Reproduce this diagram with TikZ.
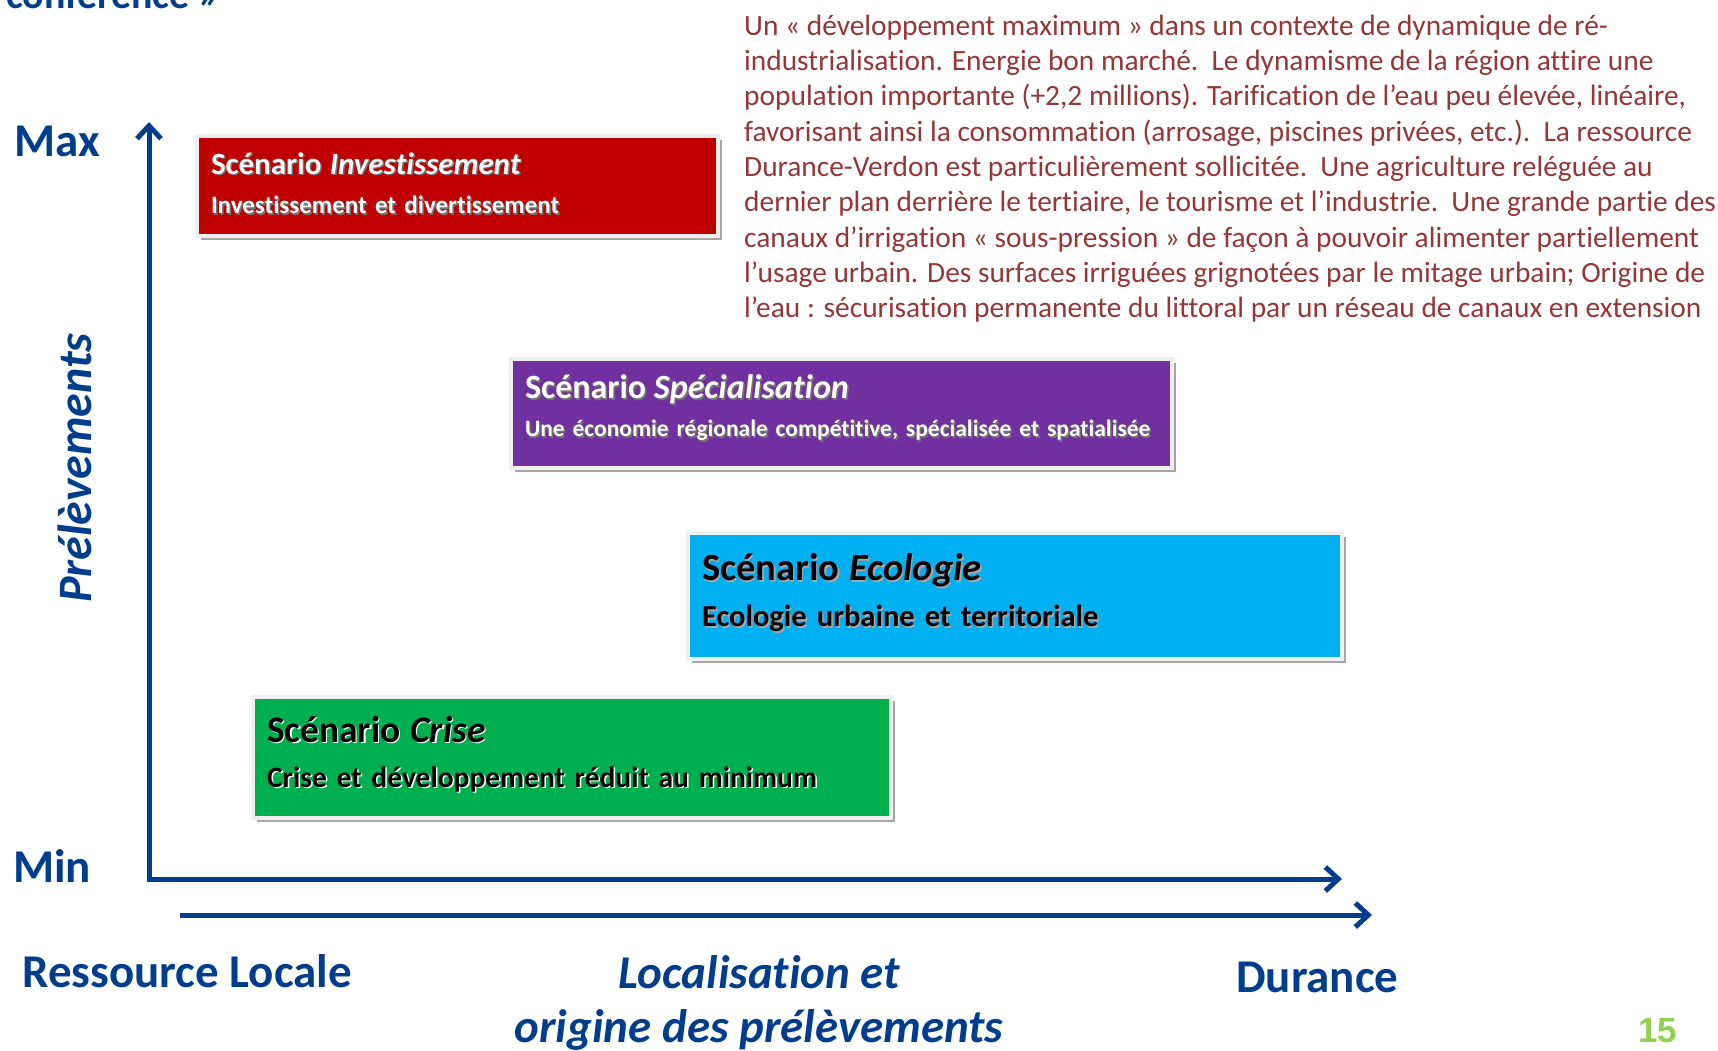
\documentclass[tikz,border=0pt]{standalone}
\usepackage{fontspec}
\setmainfont{Carlito}[Ligatures=NoCommon]
\newfontfamily\numfont{Liberation Sans}
\usetikzlibrary{arrows.meta,shadows}

\definecolor{axisblue}{HTML}{003D8C}
\definecolor{investred}{HTML}{C00000}
\definecolor{specpurple}{HTML}{7030A0}
\definecolor{ecoblue}{HTML}{00B0F0}
\definecolor{crisegreen}{HTML}{00B050}
\definecolor{notered}{HTML}{953735}
\definecolor{pagegreen}{HTML}{92D050}

%% font size shortcut, text with a small offset shadow, and a depth strut
\newcommand{\fsz}[2]{\fontsize{#1}{#2}\selectfont}
\newcommand{\shadowed}[2]{\makebox[0pt][l]{\kern1.5pt\raisebox{-1.5pt}{\color{#1}#2}}\mbox{#2}}
\newcommand{\lift}[1]{\rule[-#1]{0pt}{0pt}}

\begin{document}
\begin{tikzpicture}
[x=1pt,y=-1pt,>={Straight Barb[length=13pt,width=24pt]},%
  axisLine/.style={line width=5pt,color=axisblue},%
  axisLabel/.style={anchor=base west,inner sep=0pt,text=axisblue,font=\bfseries\fsz{47}{54}},%
  scenBox/.style={anchor=north west,draw=black!6,line width=4pt,inner xsep=14pt,inner ysep=0pt,align=left,
    drop shadow={shadow xshift=4pt,shadow yshift=-4pt,fill=black,opacity=.35}},%
  noteLine/.style={anchor=base west,inner sep=0pt,text=notered,font=\fsz{29.4}{35.3}}]
\useasboundingbox (0,0) rectangle (1718,1051);
\clip (0,0) rectangle (1718,1051);
\fill[white] (0,0) rectangle (1718,1051);

%% the two axes
\coordinate (origin) at (149,879);
\coordinate (yTop) at (149,122);
\coordinate (xEnd) at (1342,879);
\coordinate (srcStart) at (180,915);
\coordinate (srcEnd) at (1372,915);
\draw[axisLine,<->] (yTop) -- (origin) -- (xEnd);
\draw[axisLine,->] (srcStart) -- (srcEnd);

%% axis labels
\node (titleTail) at (6,9) [axisLabel,font=\bfseries\fsz{40}{40}] {conférence »};
\node (maxLabel) at (14,157) [axisLabel] {Max};
\node (minLabel) at (13,882) [axisLabel] {Min};
\node (yLabel) at (91,468) [axisLabel,anchor=base,rotate=90,font=\bfseries\itshape\fsz{48}{54}] {Prélèvements};
\node (localLabel) at (22,987) [axisLabel] {Ressource Locale};
\node (duranceLabel) at (1236,992) [axisLabel] {Durance};
\node (xLabelTop) at (759,988) [axisLabel,anchor=base,font=\bfseries\itshape\fsz{47}{54}] {Localisation et};
\node (xLabelBottom) at (759,1042) [axisLabel,anchor=base,font=\bfseries\itshape\fsz{47}{54}] {origine des prélèvements};

%% the four scenarios
\node (invest) at (195,134) [scenBox,fill=investred,text=white,text width=493pt,minimum height=100pt,font=\bfseries\fsz{25}{39.5}]
  {{\fsz{31}{31}\shadowed{black!55}{Scénario \textit{Investissement}}}\\
   \shadowed{black!55}{Investissement et divertissement}\lift{6pt}};
\node (special) at (509,357) [scenBox,fill=specpurple,text=white,text width=633pt,minimum height=109pt,font=\bfseries\fsz{23.5}{38}]
  {{\fsz{34}{34}\shadowed{black!55}{Scénario \textit{Spécialisation}}}\\
   \shadowed{black!55}{Une économie régionale compétitive, spécialisée et spatialisée}\lift{15pt}};
\node (ecology) at (686,531) [scenBox,fill=ecoblue,text=black,text width=626pt,minimum height=126pt,font=\bfseries\fsz{30.5}{46}]
  {{\fsz{38.5}{38.5}\shadowed{black!35}{Scénario \textit{Ecologie}}}\\
   \shadowed{black!35}{Ecologie urbaine et territoriale}\lift{12pt}};
\node (crisis) at (251,695) [scenBox,fill=crisegreen,text=black,text width=610pt,minimum height=121pt,font=\bfseries\fsz{29.5}{45}]
  {{\fsz{37.5}{37.5}\shadowed{white}{Scénario \textit{Crise}}}\\
   \shadowed{white}{Crise et développement réduit au minimum}\lift{12pt}};

%% scenario notes
\foreach [count=\i] \txt in {
  {Un « développement maximum » dans un contexte de dynamique de ré-},
  {industrialisation. Energie bon marché.~~Le dynamisme de la région attire une},
  {population importante (+2,2 millions). Tarification de l’eau peu élevée, linéaire,},
  {favorisant ainsi la consommation (arrosage, piscines privées, etc.).~~La ressource},
  {Durance-Verdon est particulièrement sollicitée.~~Une agriculture reléguée au},
  {dernier plan derrière le tertiaire, le tourisme et l’industrie.~~Une grande partie des},
  {canaux d’irrigation « sous-pression » de façon à pouvoir alimenter partiellement},
  {l’usage urbain. Des surfaces irriguées grignotées par le mitage urbain; Origine de},
  {l’eau : sécurisation permanente du littoral par un réseau de canaux en extension}}
{
  \node (note\i) at (744,{35.3+35.3*(\i-1)}) [noteLine] {\txt};
}

\node (pageNum) at (1638,1042) [anchor=base west,inner sep=0pt,text=pagegreen,font=\numfont\bfseries\fsz{35}{35}] {15};
\end{tikzpicture}
\end{document}
